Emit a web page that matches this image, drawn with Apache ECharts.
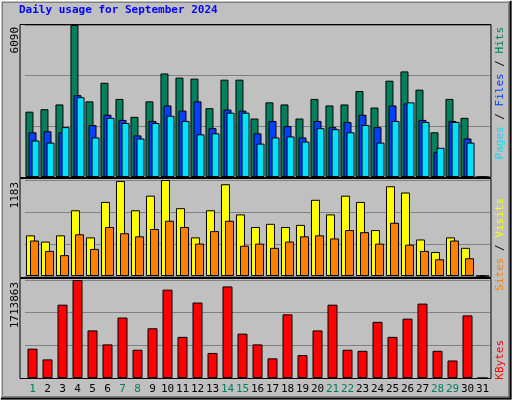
<!DOCTYPE html>
<html><head><meta charset="utf-8">
<script src="https://cdn.jsdelivr.net/npm/echarts@6/dist/echarts.min.js"></script>
<style>html,body{margin:0;padding:0;background:#c0c0c0}#c{width:512px;height:400px}</style>
</head><body><div id="c"></div>
<script>
const days = ['1','2','3','4','5','6','7','8','9','10','11','12','13','14','15','16','17','18','19','20','21','22','23','24','25','26','27','28','29','30','31'];
const weekend = ['1','7','8','14','15','21','22','28','29'];
const hits = [2618,2715,2907,6090,3031,3775,3128,2411,3031,4147,3982,3941,2756,3899,3899,2342,2990,2907,2342,3128,2866,2907,3445,2783,3858,4230,3500,1791,3128,2370,0];
const files = [1791,1833,1791,3279,2081,2494,2287,1667,2246,2866,2659,3031,1957,2701,2659,1750,2246,2039,1585,2246,1998,2205,2494,1998,2866,2949,2287,1006,2246,1543,0];
const pages = [1461,1378,1998,3197,1585,2370,2163,1543,2163,2453,2246,1709,1750,2577,2577,1337,1585,1626,1419,1957,1915,1791,2081,1378,2246,2990,2205,1171,2205,1378,0];
const visits = [501,424,501,810,476,913,1170,810,990,1183,836,476,810,1131,759,604,643,604,630,939,759,990,913,566,1106,1029,450,296,476,347,0];
const sites = [437,309,257,514,334,604,527,489,579,681,604,399,553,681,373,399,347,424,489,501,463,566,540,399,656,386,309,206,437,219,0];
const kbytes = [512900,325300,1282300,1713863,831900,588000,1057100,494100,869400,1545000,719300,1319800,437900,1601300,775600,588000,344000,1113400,400300,831900,1282300,494100,475400,982000,719300,1038300,1301000,475400,306500,1094600,0];
const maxHits = 6090, maxVisits = 1183, maxKB = 1713863;

const chart = echarts.init(document.getElementById('c'));
const mono = 'DejaVu Sans Mono';
const grids = [
  {left:25, width:465, top:25, height:152},
  {left:25, width:465, top:180, height:96},
  {left:25, width:465, top:280, height:98}
];
function xa(i){return {type:'category',gridIndex:i,data:days,boundaryGap:true,
  axisLine:{show:false},axisTick:{show:false},
  axisLabel:{show:i===2,interval:0,margin:6,fontFamily:mono,fontSize:11,
    formatter:v=>weekend.includes(v)?'{w|'+v+'}':'{n|'+v+'}',
    rich:{w:{color:'#00805c',fontFamily:mono,fontSize:11},n:{color:'#000',fontFamily:mono,fontSize:11}}}};}
function ya(i,m){return {type:'value',gridIndex:i,min:0,max:m,interval:m/3,
  axisLine:{show:false},axisTick:{show:false},axisLabel:{show:false},
  splitLine:{show:true,lineStyle:{color:'#808080',width:1}}};}
const bs = {borderColor:'#000',borderWidth:1};
function frame(y,h){return {type:'rect',shape:{x:20,y:y,width:471,height:h},style:{fill:'none',stroke:'#000',lineWidth:1},z:10};}
function vtext(x,y,parts){ // rotated text reading bottom to top
  return {type:'text',x:x,y:y,rotation:Math.PI/2,style:{rich:parts.rich,text:parts.text,fontFamily:mono,fontSize:11,align:'right',verticalAlign:'middle'}};}
chart.setOption({
  animation:false,
  backgroundColor:'#c0c0c0',
  grid:grids,
  xAxis:[xa(0),xa(1),xa(2)],
  yAxis:[ya(0,maxHits),ya(1,maxVisits),ya(2,maxKB)],
  series:[
    {type:'bar',xAxisIndex:0,yAxisIndex:0,data:hits,barWidth:8,barGap:'-62%',itemStyle:Object.assign({color:'#00805c'},bs)},
    {type:'bar',xAxisIndex:0,yAxisIndex:0,data:files,barWidth:8,barGap:'-62%',itemStyle:Object.assign({color:'#0040ff'},bs)},
    {type:'bar',xAxisIndex:0,yAxisIndex:0,data:pages,barWidth:8,barGap:'-62%',itemStyle:Object.assign({color:'#00e0ff'},bs)},
    {type:'bar',xAxisIndex:1,yAxisIndex:1,data:visits,barWidth:9,barGap:'-55%',itemStyle:Object.assign({color:'#ffff00'},bs)},
    {type:'bar',xAxisIndex:1,yAxisIndex:1,data:sites,barWidth:9,barGap:'-55%',itemStyle:Object.assign({color:'#ff8000'},bs)},
    {type:'bar',xAxisIndex:2,yAxisIndex:2,data:kbytes,barWidth:10,itemStyle:Object.assign({color:'#ff0000'},bs)}
  ],
  graphic:[
    {type:'rect',shape:{x:0.5,y:0.5,width:510,height:398},style:{fill:'none',stroke:'#fff',lineWidth:1}},
    {type:'rect',shape:{x:2.5,y:2.5,width:506,height:394},style:{fill:'none',stroke:'#808080',lineWidth:1}},
    {type:'polyline',shape:{points:[[1,398.5],[510.5,398.5],[510.5,1]]},style:{stroke:'#000',lineWidth:2,fill:'none'}},
    frame(24.5,153), frame(178.5,99), frame(278.5,100),
    {type:'text',x:19,y:10,style:{text:'Daily usage for September 2024',fill:'#0000ff',fontFamily:mono,fontSize:11,fontWeight:'bold',verticalAlign:'middle'}},
    {type:'text',x:15,y:27,rotation:Math.PI/2,style:{text:String(maxHits),fill:'#000',fontFamily:mono,fontSize:11,align:'right',verticalAlign:'middle'}},
    {type:'text',x:15,y:182,rotation:Math.PI/2,style:{text:String(maxVisits),fill:'#000',fontFamily:mono,fontSize:11,align:'right',verticalAlign:'middle'}},
    {type:'text',x:15,y:282,rotation:Math.PI/2,style:{text:String(maxKB),fill:'#000',fontFamily:mono,fontSize:11,align:'right',verticalAlign:'middle'}},
    {type:'text',x:500,y:27,rotation:Math.PI/2,style:{text:'{p|Pages}{k| / }{f|Files}{k| / }{h|Hits}',align:'right',verticalAlign:'middle',
      rich:{p:{fill:'#00e0ff',fontFamily:mono,fontSize:11},f:{fill:'#0040ff',fontFamily:mono,fontSize:11},h:{fill:'#00805c',fontFamily:mono,fontSize:11},k:{fill:'#000',fontFamily:mono,fontSize:11}}}},
    {type:'text',x:500,y:198,rotation:Math.PI/2,style:{text:'{s|Sites}{k| / }{v|Visits}',align:'right',verticalAlign:'middle',
      rich:{s:{fill:'#ff8000',fontFamily:mono,fontSize:11},v:{fill:'#ffff00',fontFamily:mono,fontSize:11},k:{fill:'#000',fontFamily:mono,fontSize:11}}}},
    {type:'text',x:500,y:340,rotation:Math.PI/2,style:{text:'KBytes',fill:'#ff0000',fontFamily:mono,fontSize:11,align:'right',verticalAlign:'middle'}}
  ]
});
</script></body></html>
